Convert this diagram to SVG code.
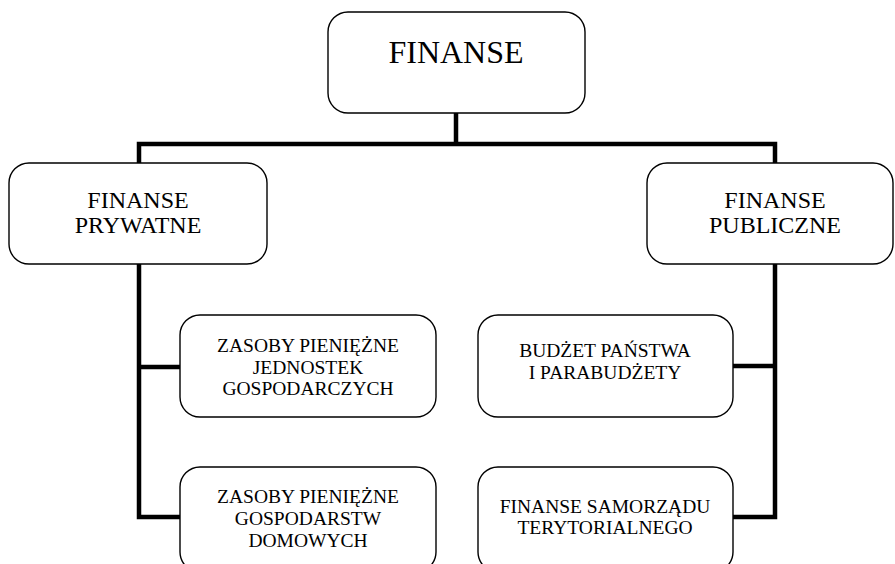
<svg xmlns="http://www.w3.org/2000/svg" width="895" height="564" viewBox="0 0 895 564">
<style>
.box{fill:#fff;stroke:#000;stroke-width:1.4}
.t{font-family:"Liberation Serif","Times New Roman",serif;fill:#000;text-anchor:middle}
.conn{fill:none;stroke:#000;stroke-width:4.5;stroke-linejoin:miter;stroke-linecap:square}
</style>
<rect width="895" height="564" fill="#fff"/>
<g id="connectors">
<path class="conn" d="M456,113 V144 M139,163 V144 H775 V163"/>
<path class="conn" d="M139,264 V517 H180 M139,367 H180"/>
<path class="conn" d="M775,264 V517 H733 M775,366 H733"/>
</g>
<g id="finanse">
<rect class="box" x="328" y="12" width="257" height="101" rx="20"/>
<text class="t" x="456" y="63" font-size="32">FINANSE</text>
</g>
<g id="finanse-prywatne">
<rect class="box" x="9" y="163" width="258" height="101" rx="20"/>
<text class="t" x="138" y="208" font-size="24">FINANSE</text>
<text class="t" x="138" y="233" font-size="24">PRYWATNE</text>
</g>
<g id="finanse-publiczne">
<rect class="box" x="647" y="163" width="246" height="101" rx="20"/>
<text class="t" x="775" y="208" font-size="24">FINANSE</text>
<text class="t" x="775" y="233" font-size="24">PUBLICZNE</text>
</g>
<g id="zasoby-jednostek">
<rect class="box" x="180" y="315" width="256" height="102" rx="20"/>
<text class="t" x="308" y="352" font-size="19.5">ZASOBY PIENIĘŻNE</text>
<text class="t" x="308" y="373.5" font-size="19.5">JEDNOSTEK</text>
<text class="t" x="308" y="395" font-size="19.5">GOSPODARCZYCH</text>
</g>
<g id="zasoby-gospodarstw">
<rect class="box" x="180" y="467" width="256" height="105" rx="20"/>
<text class="t" x="308" y="503" font-size="19.5">ZASOBY PIENIĘŻNE</text>
<text class="t" x="308" y="525" font-size="19.5">GOSPODARSTW</text>
<text class="t" x="308" y="547" font-size="19.5">DOMOWYCH</text>
</g>
<g id="budzet-panstwa">
<rect class="box" x="478" y="315" width="255" height="102" rx="20"/>
<text class="t" x="605" y="357" font-size="19.5">BUDŻET PAŃSTWA</text>
<text class="t" x="605" y="378.5" font-size="19.5">I PARABUDŻETY</text>
</g>
<g id="samorzad">
<rect class="box" x="478" y="467" width="255" height="105" rx="20"/>
<text class="t" x="605" y="513" font-size="19.5">FINANSE SAMORZĄDU</text>
<text class="t" x="605" y="534" font-size="19.5">TERYTORIALNEGO</text>
</g>
</svg>
